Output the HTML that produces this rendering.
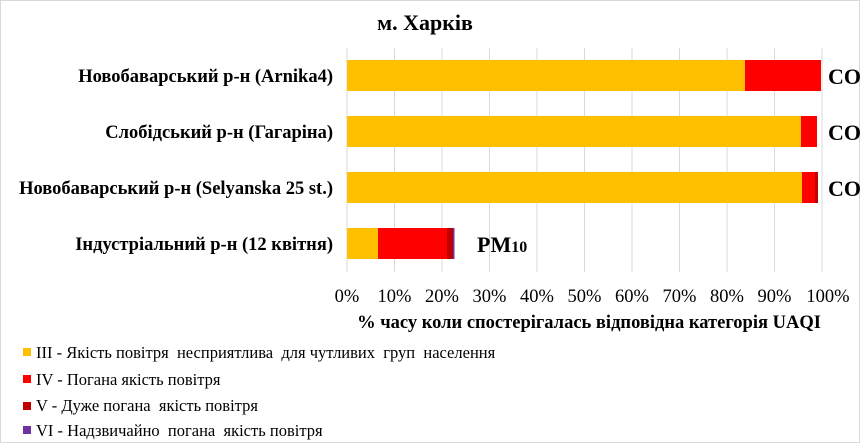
<!DOCTYPE html><html><head><meta charset="utf-8"><style>
body{margin:0;background:#fff}
svg text{font-family:"Liberation Serif",serif}
.lg text{white-space:pre}
</style></head><body>
<svg width="860" height="443" xmlns="http://www.w3.org/2000/svg">
<rect x="0.5" y="0.5" width="859" height="442" fill="#fff" stroke="#d9d9d9"/>
<text x="425" y="30" font-size="22" font-weight="bold" text-anchor="middle">м. Харків</text>
<g stroke="#d9d9d9" stroke-width="1">
<line x1="347" y1="48" x2="347" y2="272"/><line x1="394.5" y1="48" x2="394.5" y2="272"/><line x1="442" y1="48" x2="442" y2="272"/><line x1="489.5" y1="48" x2="489.5" y2="272"/><line x1="537" y1="48" x2="537" y2="272"/><line x1="584.5" y1="48" x2="584.5" y2="272"/><line x1="632" y1="48" x2="632" y2="272"/><line x1="679.5" y1="48" x2="679.5" y2="272"/><line x1="727" y1="48" x2="727" y2="272"/><line x1="774.5" y1="48" x2="774.5" y2="272"/><line x1="822" y1="48" x2="822" y2="272"/>
</g>
<rect x="347" y="60" width="398" height="31" fill="#ffc000"/><rect x="745" y="60" width="76" height="31" fill="#ff0000"/>
<rect x="347" y="116" width="454" height="31" fill="#ffc000"/><rect x="801" y="116" width="16" height="31" fill="#ff0000"/>
<rect x="347" y="172" width="455" height="31" fill="#ffc000"/><rect x="802" y="172" width="13" height="31" fill="#ff0000"/><rect x="815" y="172" width="3" height="31" fill="#c00000"/>
<rect x="347" y="228" width="31" height="31" fill="#ffc000"/><rect x="378" y="228" width="69" height="31" fill="#ff0000"/><rect x="447" y="228" width="6" height="31" fill="#c00000"/><rect x="453" y="228" width="1.5" height="31" fill="#7030a0"/>
<g font-size="22" font-weight="bold"><text x="828" y="84">CO</text><text x="828" y="140">CO</text><text x="828" y="196">CO</text><text x="477" y="252">PM<tspan font-size="16">10</tspan></text></g>
<g font-size="18.5" font-weight="bold" text-anchor="end">
<text x="333" y="82">Новобаварський р-н (Arnika4)</text>
<text x="333" y="138">Слобідський р-н (Гагаріна)</text>
<text x="333" y="194">Новобаварський р-н (Selyanska 25 st.)</text>
<text x="333" y="250">Індустріальний р-н (12 квітня)</text>
</g>
<g font-size="18.5" text-anchor="middle">
<text x="347" y="302">0%</text><text x="394.5" y="302">10%</text><text x="442" y="302">20%</text><text x="489.5" y="302">30%</text><text x="537" y="302">40%</text><text x="584.5" y="302">50%</text><text x="632" y="302">60%</text><text x="679.5" y="302">70%</text><text x="727" y="302">80%</text><text x="774.5" y="302">90%</text><text x="828" y="302">100%</text>
</g>
<text x="589" y="328" font-size="18.5" font-weight="bold" text-anchor="middle">% часу коли спостерігалась відповідна категорія UAQI</text>
<g font-size="16.5" class="lg">
<rect x="23" y="348" width="8" height="8" fill="#ffc000"/><text x="36" y="358">ІІІ - Якість повітря  несприятлива  для чутливих  груп  населення</text>
<rect x="23" y="375" width="8" height="8" fill="#ff0000"/><text x="36" y="385">IV - Погана якість повітря</text>
<rect x="23" y="402" width="8" height="8" fill="#c00000"/><text x="36" y="411">V - Дуже погана  якість повітря</text>
<rect x="23" y="426" width="8" height="8" fill="#7030a0"/><text x="36" y="436">VI - Надзвичайно  погана  якість повітря</text>
</g>
</svg></body></html>
